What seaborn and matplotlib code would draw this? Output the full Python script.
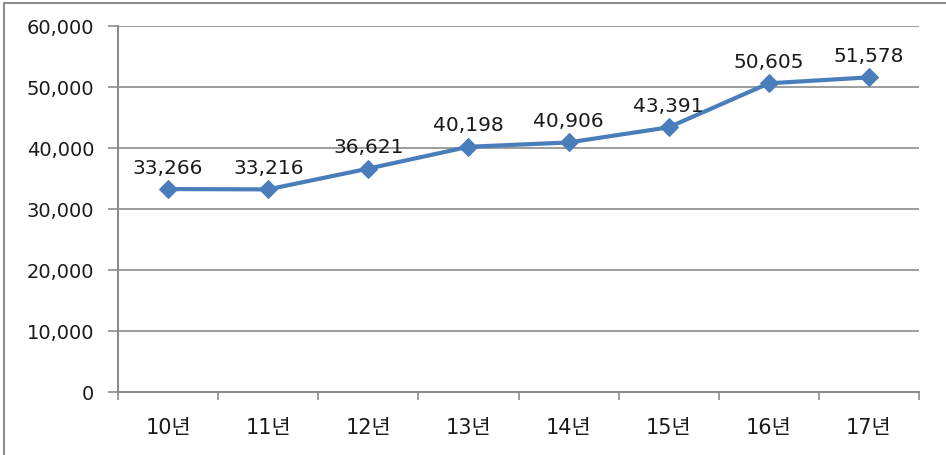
import matplotlib
matplotlib.use("Agg")
import matplotlib.pyplot as plt
import matplotlib.lines as mlines
import seaborn as sns
import pandas as pd
from matplotlib.ticker import FuncFormatter

years = ["10년", "11년", "12년", "13년", "14년", "15년", "16년", "17년"]
values = [33266, 33216, 36621, 40198, 40906, 43391, 50605, 51578]
y_ticks = [0, 10000, 20000, 30000, 40000, 50000, 60000]

sns.set_style("white")
plt.rcParams["font.family"] = ["DejaVu Sans", "Noto Sans CJK KR"]

df = pd.DataFrame({"year": years, "value": values})

fig = plt.figure(figsize=(9.46, 4.56), dpi=100)
ax = fig.add_axes([118 / 946, 1 - 393 / 456, (919 - 118) / 946, (393 - 27) / 456])

line_color = "#4A7EBB"
sns.lineplot(data=df, x="year", y="value", ax=ax, color=line_color, linewidth=3,
             marker="D", markersize=9.5, markeredgecolor=line_color, sort=False)

for i, v in enumerate(values):
    ax.annotate(f"{v:,}", (i, v), xytext=(0, 9), textcoords="offset points",
                ha="center", va="bottom", fontsize=14.5, color="#1A1A1A")

ax.set_xlim(-0.5, len(years) - 0.5)
ax.set_ylim(0, 60000)
ax.set_yticks(y_ticks)
ax.yaxis.set_major_formatter(FuncFormatter(lambda v, p: f"{int(v):,}"))
ax.set_xticks([i - 0.5 for i in range(len(years) + 1)], minor=False)
ax.set_xticklabels([])
ax.set_xticks(range(len(years)), minor=True)
ax.set_xticklabels(years, minor=True)

grid_color = "#8C8C8C"
ax.grid(axis="y", color=grid_color, linewidth=1.2)
ax.set_axisbelow(True)
for side in ["top", "right"]:
    ax.spines[side].set_visible(False)
for side in ["left", "bottom"]:
    ax.spines[side].set_color(grid_color)
    ax.spines[side].set_linewidth(1.5)

ax.tick_params(axis="y", which="major", direction="out", length=7, width=1.2,
               color=grid_color, left=True, pad=10, labelsize=14, labelcolor="#1A1A1A")
ax.tick_params(axis="x", which="major", direction="out", length=6, width=1.2,
               color=grid_color, bottom=True)
ax.tick_params(axis="x", which="minor", length=0, pad=18, labelsize=15,
               labelcolor="#1A1A1A")

ax.set_xlabel("")
ax.set_ylabel("")

# chart frame (top and left edges)
fig.add_artist(mlines.Line2D([4 / 946, 4 / 946], [0, 1 - 4 / 456], transform=fig.transFigure,
                             color="#8C8C8C", linewidth=1.5))
fig.add_artist(mlines.Line2D([4 / 946, 1], [1 - 4 / 456, 1 - 4 / 456], transform=fig.transFigure,
                             color="#8C8C8C", linewidth=1.5))

fig.savefig("out.png", dpi=100)
